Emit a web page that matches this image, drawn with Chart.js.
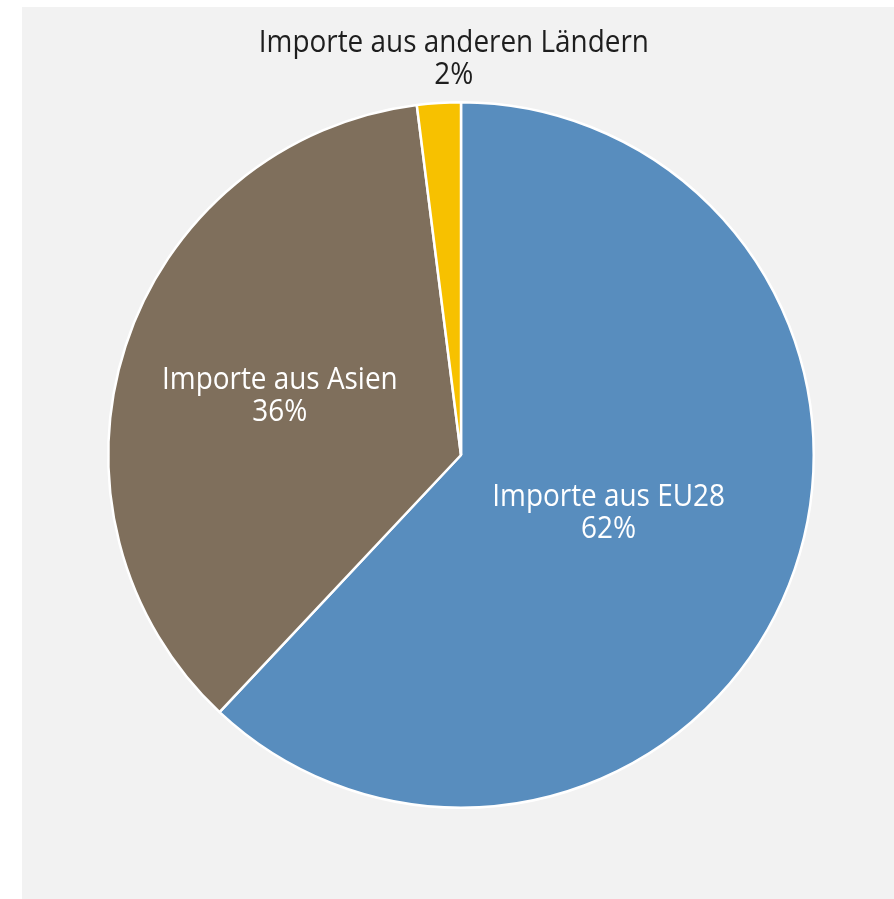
<!DOCTYPE html>
<html lang="de">
<head>
<meta charset="utf-8">
<title>Importe nach Herkunft</title>
<script src="https://cdn.jsdelivr.net/npm/chart.js@4/dist/chart.umd.min.js"></script>
<style>
    html, body { margin: 0; padding: 0; background: #ffffff; }
    #panel {
        position: absolute;
        left: 22px; top: 7px;
        width: 872px; height: 892px;
        background: #f2f2f2;
    }
</style>
</head>
<body>
<div id="panel"><canvas id="importChart"></canvas></div>
<script>
// Anteile der Importe nach Herkunft (in %)
const categories = ['Importe aus EU28', 'Importe aus Asien', 'Importe aus anderen Ländern'];
const shares = [62, 36, 2];
const sliceColors = ['#588dbe', '#7f6f5c', '#f7c100'];

// Beschriftung: Abstand vom Mittelpunkt als Anteil des Radius, Textfarbe
const labelStyle = [
    { radius: 0.45, color: '#ffffff', outside: false },
    { radius: 0.54, color: '#ffffff', outside: false },
    { radius: 1.0, color: '#1e1e1e', outside: true }
];

const sliceLabels = {
    id: 'sliceLabels',
    afterDatasetsDraw(chart) {
        const ctx = chart.ctx;
        const meta = chart.getDatasetMeta(0);
        const lineHeight = 32;
        const squeeze = 0.9; // schmalere Schrift
        ctx.save();
        ctx.font = '31px "Open Sans", sans-serif';
        ctx.textAlign = 'center';
        ctx.textBaseline = 'middle';
        meta.data.forEach((arc, i) => {
            const p = arc.getProps(['x', 'y', 'startAngle', 'endAngle', 'outerRadius'], true);
            const mid = (p.startAngle + p.endAngle) / 2;
            const st = labelStyle[i];
            const lines = [categories[i], shares[i] + '%'];
            let x = p.x + Math.cos(mid) * p.outerRadius * st.radius;
            let y = p.y + Math.sin(mid) * p.outerRadius * st.radius;
            if (st.outside) {
                // Text oberhalb des Kreises
                x += 15;
                y = y - 28 - lineHeight * (lines.length - 1) / 2;
            }
            ctx.fillStyle = st.color;
            lines.forEach((txt, k) => {
                ctx.save();
                ctx.translate(x, y + (k - (lines.length - 1) / 2) * lineHeight);
                ctx.scale(squeeze, 1);
                ctx.fillText(txt, 0, 0);
                ctx.restore();
            });
        });
        ctx.restore();
    }
};

new Chart(document.getElementById('importChart'), {
    type: 'pie',
    data: {
        labels: categories,
        datasets: [{
            data: shares,
            backgroundColor: sliceColors,
            borderColor: '#ffffff',
            borderWidth: 2.5
        }]
    },
    options: {
        responsive: true,
        maintainAspectRatio: false,
        animation: false,
        layout: { padding: { top: 94, bottom: 90, left: 85, right: 79 } },
        plugins: {
            legend: { display: false },
            tooltip: { enabled: false }
        }
    },
    plugins: [sliceLabels]
});
</script>
</body>
</html>
